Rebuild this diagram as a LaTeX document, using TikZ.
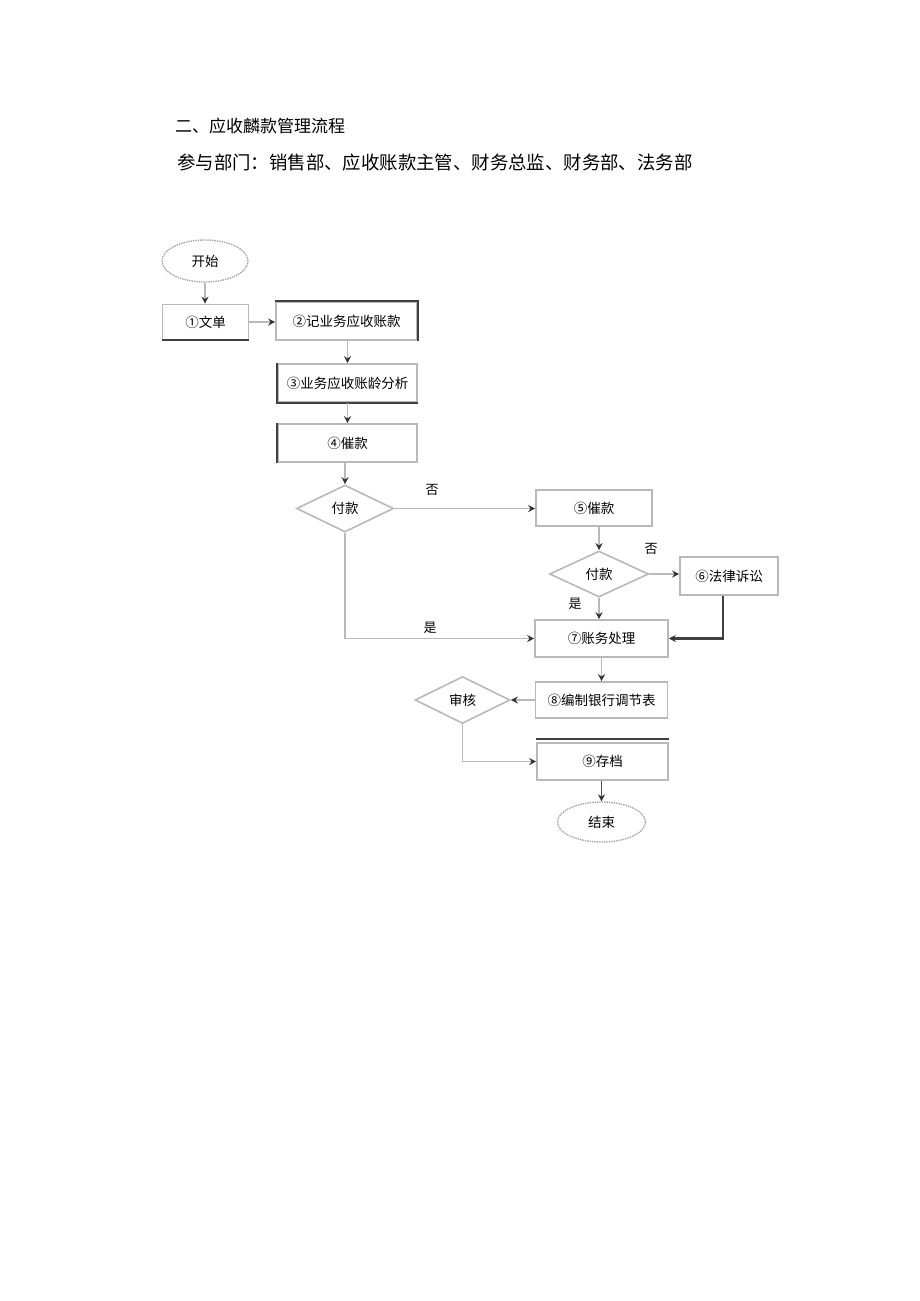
\documentclass[tikz,border=0pt]{standalone}
\usepackage{fontspec}
\setmainfont{Noto Sans CJK SC}
\usetikzlibrary{shapes.geometric,arrows.meta}
\begin{document}
\begin{tikzpicture}[x=1pt,y=-1pt,
  every node/.style={inner sep=0pt,font=\fontsize{13.5}{13.5}\selectfont},
  box/.style={draw=gray!55,line width=1.6pt,rectangle},
  term/.style={draw=gray!70,line width=1.4pt,densely dotted,ellipse},
  dia/.style={draw=gray!55,line width=1.6pt,diamond},
  conn/.style={draw=gray!55,line width=1.6pt,-{Stealth[color=black!80,length=7pt,width=7pt]}},
  darkedge/.style={draw=black!75,line width=2.2pt},
  lbl/.style={font=\fontsize{13}{13}\selectfont}
]
\useasboundingbox (0,0) rectangle (920,1301);
\fill[white] (0,0) rectangle (920,1301);

% titles
\node[anchor=west,font=\fontsize{17}{17}\selectfont] (t1) at (175,126) {二、应收麟款管理流程};
\node[anchor=west,font=\fontsize{18.4}{18.4}\selectfont] (t2) at (177,162) {参与部门：销售部、应收账款主管、财务总监、财务部、法务部};

% nodes
\node[term,minimum width=86,minimum height=42] (start) at (205,261) {开始};
\node[box,minimum width=86,minimum height=35] (n1) at (205.5,322) {①文单};
\node[box,minimum width=141,minimum height=38] (n2) at (346.5,321) {②记业务应收账款};
\node[box,minimum width=139,minimum height=38] (n3) at (347.5,383) {③业务应收账龄分析};
\node[box,minimum width=139,minimum height=38] (n4) at (347.5,443) {④催款};
\node[dia,minimum width=97,minimum height=47,aspect=2] (d1) at (345,508.5) {付款};
\node[box,minimum width=116,minimum height=36] (n5) at (594,508) {⑤催款};
\node[dia,minimum width=99,minimum height=46,aspect=2.1] (d2) at (599,574) {付款};
\node[box,minimum width=98,minimum height=38] (n6) at (729,576) {⑥法律诉讼};
\node[box,minimum width=133,minimum height=37] (n7) at (601.5,638.5) {⑦账务处理};
\node[box,minimum width=132,minimum height=36] (n8) at (601.5,700) {⑧编制银行调节表};
\node[dia,minimum width=95,minimum height=47,aspect=2] (d3) at (462.5,700) {审核};
\node[box,minimum width=131,minimum height=37] (n9) at (602.5,761.5) {⑨存档};
\node[term,minimum width=88,minimum height=40] (end) at (601.5,822) {结束};

% dark edges
\draw[darkedge] (n1.south west) -- (n1.south east);
\draw[darkedge] (n2.north west) -- (n2.north east) -- (n2.south east);
\draw[darkedge] (n3.north west) -- (n3.south west) -- (n3.south east);
\draw[darkedge] (n4.north west) -- (n4.south west);
\draw[darkedge] ([yshift=3pt]n9.north west) -- ([yshift=3pt]n9.north east);

% connectors
\draw[conn] (start.south) -- (start.south |- n1.north);
\draw[conn] (n1.east) -- (n1.east -| n2.west);
\draw[conn] (n2.south -| n3.north) -- (n3.north);
\draw[conn] (n3.south) -- (n4.north);
\draw[conn] (n4.south -| d1.north) -- (d1.north);
\draw[conn] (d1.east) -- (d1.east -| n5.west);
\draw[conn] (n5.south -| d2.north) -- (d2.north);
\draw[conn] (d2.east) -- (d2.east -| n6.west);
\draw[conn] (d2.south) -- (d2.south |- n7.north);
\draw[conn,draw=black!75,line width=2.2pt] ([xshift=-6pt]n6.south) |- (n7.east);
\draw[conn] (d1.south) |- (n7.west);
\draw[conn] (n7.south) -- (n8.north);
\draw[conn] (n8.west) -- (d3.east);
\draw[conn] (d3.south) |- (n9.west);
\draw[conn,draw=black!70] (n9.south -| end.north) -- (end.north);

% labels
\node[lbl] (l1) at (432,490) {否};
\node[lbl] (l2) at (651,549) {否};
\node[lbl] (l3) at (575,604) {是};
\node[lbl] (l4) at (430,628) {是};
\end{tikzpicture}
\end{document}
